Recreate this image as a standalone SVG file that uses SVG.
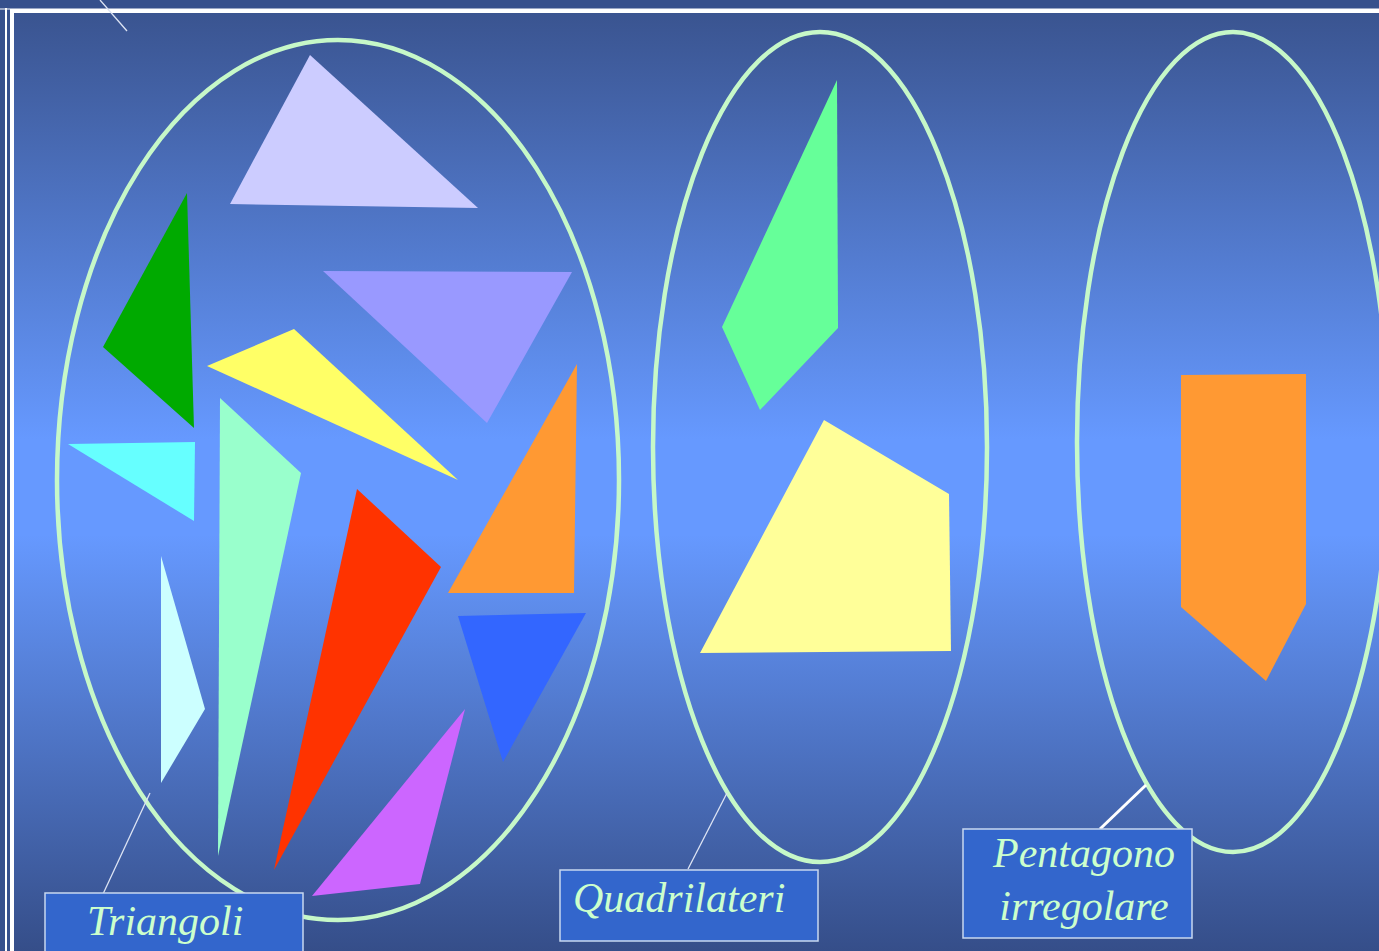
<svg xmlns="http://www.w3.org/2000/svg" width="1379" height="951" viewBox="0 0 1379 951">
<defs>
<linearGradient id="bg" x1="0" y1="0" x2="0" y2="1">
<stop offset="0" stop-color="#3a5490"/>
<stop offset="0.45" stop-color="#6699ff"/>
<stop offset="0.55" stop-color="#6699ff"/>
<stop offset="1" stop-color="#344c86"/>
</linearGradient>
<style>
.set{fill:none;stroke:#c6f8c8;stroke-width:4.5}
.lbl{fill:#3366cc;stroke:#c8d8f0;stroke-width:1.5}
.txt{font-family:"Liberation Serif","DejaVu Serif",serif;font-style:italic;fill:#ccffcc;font-size:42px}
.lead{stroke:#dde4f4;stroke-width:1.3;fill:none}
.lead-bold{stroke:#ffffff;stroke-width:3;fill:none}
</style>
</defs>
<rect width="1379" height="951" fill="#36508c"/>
<rect x="13" y="12" width="1380" height="950" fill="url(#bg)"/>
<line x1="6" y1="8" x2="6" y2="951" stroke="#ffffff" stroke-width="2"/>
<line x1="0" y1="9" x2="1379" y2="9" stroke="#ffffff" stroke-width="1"/>
<rect x="12" y="11" width="1380" height="950" fill="none" stroke="#ffffff" stroke-width="4"/>

<g id="set-triangoli">
<ellipse class="set" cx="338" cy="480" rx="281" ry="440"/>
<polygon fill="#ccccff" points="310,55 230,204 478,208"/>
<polygon fill="#9999ff" points="323,271 572,272 487,423"/>
<polygon fill="#00aa00" points="187,193 103,347 194,428"/>
<polygon fill="#ffff66" points="294,329 207,366 458,480"/>
<polygon fill="#66ffff" points="68,444 195,442 194,521"/>
<polygon fill="#99ffcc" points="220,398 301,473 218,856"/>
<polygon fill="#ccffff" points="161,556 205,709 161,783"/>
<polygon fill="#ff3300" points="357,489 441,567 274,870"/>
<polygon fill="#ff9933" points="577,364 448,593 574,593"/>
<polygon fill="#3366ff" points="458,616 586,613 503,762"/>
<polygon fill="#cc66ff" points="465,709 312,896 420,884"/>
</g>

<g id="set-quadrilateri">
<ellipse class="set" cx="820" cy="447" rx="167" ry="415"/>
<polygon fill="#66ff99" points="837,80 838,328 760,410 722,327"/>
<polygon fill="#ffff99" points="824,420 949,494 951,651 700,653"/>
</g>

<g id="set-pentagono">
<ellipse class="set" cx="1233" cy="442" rx="156" ry="410"/>
<polygon fill="#ff9933" points="1181,375 1306,374 1306,604 1266,681 1181,607"/>
</g>

<g id="connectors">
<line class="lead" x1="100" y1="0" x2="127" y2="31"/>
<line class="lead" x1="103" y1="894" x2="150" y2="793"/>
<line class="lead" x1="688" y1="869" x2="727" y2="793"/>
<line class="lead-bold" x1="1100" y1="829" x2="1146" y2="785"/>
</g>

<g id="label-triangoli">
<rect class="lbl" x="45" y="893" width="258" height="70"/>
<text class="txt" x="87" y="935">Triangoli</text>
</g>
<g id="label-quadrilateri">
<rect class="lbl" x="560" y="870" width="258" height="71"/>
<text class="txt" x="573" y="912">Quadrilateri</text>
</g>
<g id="label-pentagono">
<rect class="lbl" x="963" y="829" width="229" height="109"/>
<text class="txt" x="1084" y="867" text-anchor="middle">Pentagono</text>
<text class="txt" x="1084" y="920" text-anchor="middle">irregolare</text>
</g>
</svg>
